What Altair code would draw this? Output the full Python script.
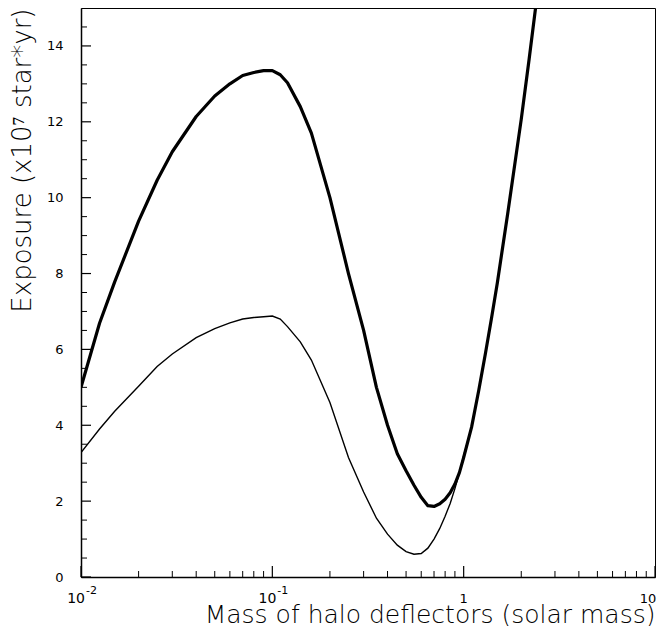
import altair as alt
import pandas as pd

# ---- data ----
mass = [0.01, 0.0125, 0.015, 0.02, 0.025, 0.03, 0.04, 0.05, 0.06, 0.07, 0.08, 0.09,
        0.1, 0.11, 0.12, 0.14, 0.16, 0.2, 0.25, 0.3, 0.35, 0.4, 0.45, 0.5, 0.55,
        0.6, 0.65, 0.7, 0.75, 0.8, 0.85, 0.9, 0.95, 1.0, 1.1, 1.2, 1.3, 1.4, 1.5,
        1.7, 2.0, 2.2, 2.4]
thick_curve = [5.0, 6.69, 7.78, 9.38, 10.46, 11.21, 12.14, 12.68, 13.0, 13.22, 13.3, 13.35,
               13.35, 13.24, 13.03, 12.4, 11.7, 10.0, 8.0, 6.5, 5.0, 4.0, 3.25, 2.8, 2.42,
               2.1, 1.88, 1.86, 1.93, 2.05, 2.22, 2.45, 2.75, 3.15, 3.95, 4.93, 5.9, 6.84,
               7.76, 9.59, 12.07, 13.66, 15.18]
thin_curve = [3.28, 3.9, 4.37, 5.03, 5.55, 5.88, 6.31, 6.55, 6.7, 6.8, 6.84, 6.86,
              6.88, 6.8, 6.6, 6.2, 5.72, 4.6, 3.15, 2.24, 1.55, 1.13, 0.84, 0.67, 0.6,
              0.62, 0.76, 1.0, 1.28, 1.6, 1.94, 2.33, 2.75, 3.2, 3.95, 4.93, 5.9, 6.84,
              7.76, 9.59, 12.07, 13.66, 15.18]

y_major = [0, 2, 4, 6, 8, 10, 12, 14]
y_minor = [0.5, 1, 1.5, 2.5, 3, 3.5, 4.5, 5, 5.5, 6.5, 7, 7.5, 8.5, 9, 9.5,
           10.5, 11, 11.5, 12.5, 13, 13.5, 14.5]
x_major = [0.01, 0.1, 1, 10]
x_minor = [0.02, 0.03, 0.04, 0.05, 0.06, 0.07, 0.08, 0.09,
           0.2, 0.3, 0.4, 0.5, 0.6, 0.7, 0.8, 0.9,
           2, 3, 4, 5, 6, 7, 8, 9]
pow_bases = [0.01, 0.1]
pow_base_text = ["10", "10"]
pow_exp_text = ["-2", "-1"]
plain_x1 = [1]
plain_t1 = ["1"]
plain_x2 = [10]
plain_t2 = ["10"]

W, H = 574, 569
FONT = "DejaVu Sans"

xs = alt.Scale(type="log", domain=[0.01, 10], nice=False)
ys = alt.Scale(domain=[0, 15], nice=False, zero=False)

df = pd.DataFrame({"m": mass, "thick": thick_curve, "thin": thin_curve})

x_axis = alt.Axis(labels=False, ticks=False, tickSize=0, grid=False, domainColor="black",
                  domainWidth=1.5, title="Mass of halo deflectors (solar mass)",
                  titleFont=FONT, titleFontSize=25, titleFontWeight=200, titleColor="black",
                  titleX=W, titleY=45, titleAlign="right", titleBaseline="alphabetic",
                  titleAnchor="end")
y_axis = alt.Axis(values=y_major, ticks=False, tickSize=0, grid=False, domainColor="black",
                  domainWidth=1.5, labelFont=FONT, labelFontSize=13, labelColor="black",
                  labelPadding=18, title="Exposure (x10\u2077 star*yr)", titleFont=FONT,
                  titleFontSize=26, titleFontWeight=200, titleColor="black",
                  titleX=-59, titleY=0, titleAngle=270, titleAlign="right",
                  titleBaseline="middle", titleAnchor="end")

base = alt.Chart(df)

thin_line = base.mark_line(color="black", strokeWidth=1.4, clip=True).encode(
    x=alt.X("m:Q", scale=xs, axis=x_axis),
    y=alt.Y("thin:Q", scale=ys, axis=y_axis),
)
thick_line = base.mark_line(color="black", strokeWidth=3.2, clip=True,
                            strokeJoin="round").encode(
    x=alt.X("m:Q", scale=xs),
    y=alt.Y("thick:Q", scale=ys),
)

ytm = alt.Chart(pd.DataFrame({"v": y_major})).mark_rule(color="black", strokeWidth=1.2).encode(
    y=alt.Y("v:Q", scale=ys), x=alt.value(0), x2=alt.value(10))
ytn = alt.Chart(pd.DataFrame({"v": y_minor})).mark_rule(color="black", strokeWidth=1).encode(
    y=alt.Y("v:Q", scale=ys), x=alt.value(0), x2=alt.value(6))
xtm = alt.Chart(pd.DataFrame({"v": x_major})).mark_rule(color="black", strokeWidth=1.2).encode(
    x=alt.X("v:Q", scale=xs), y=alt.value(H), y2=alt.value(H - 11))
xtn = alt.Chart(pd.DataFrame({"v": x_minor})).mark_rule(color="black", strokeWidth=1).encode(
    x=alt.X("v:Q", scale=xs), y=alt.value(H), y2=alt.value(H - 6))

lab_base = alt.Chart(pd.DataFrame({"v": pow_bases, "t": pow_base_text})).mark_text(
    align="right", baseline="alphabetic", dx=4, font=FONT, fontSize=14, color="black").encode(
    x=alt.X("v:Q", scale=xs), y=alt.value(H + 26), text="t:N")
lab_exp = alt.Chart(pd.DataFrame({"v": pow_bases, "t": pow_exp_text})).mark_text(
    align="left", baseline="alphabetic", dx=5, font=FONT, fontSize=11, color="black").encode(
    x=alt.X("v:Q", scale=xs), y=alt.value(H + 17), text="t:N")
lab_p1 = alt.Chart(pd.DataFrame({"v": plain_x1, "t": plain_t1})).mark_text(
    align="center", baseline="alphabetic", font=FONT, fontSize=13, color="black").encode(
    x=alt.X("v:Q", scale=xs), y=alt.value(H + 26), text="t:N")
lab_p2 = alt.Chart(pd.DataFrame({"v": plain_x2, "t": plain_t2})).mark_text(
    align="center", baseline="alphabetic", dx=-7, font=FONT, fontSize=13, color="black").encode(
    x=alt.X("v:Q", scale=xs), y=alt.value(H + 26), text="t:N")

chart = alt.layer(thin_line, thick_line, ytm, ytn, xtm, xtn,
                  lab_base, lab_exp, lab_p1, lab_p2).properties(
    width=W, height=H,
    autosize=alt.AutoSizeParams(type="none"),
    padding={"left": 73, "top": 0, "right": 2, "bottom": 49},
    background="white",
).configure_view(stroke="black", strokeWidth=1)

chart.save("out.html", embed_options={"renderer": "svg", "actions": False})
